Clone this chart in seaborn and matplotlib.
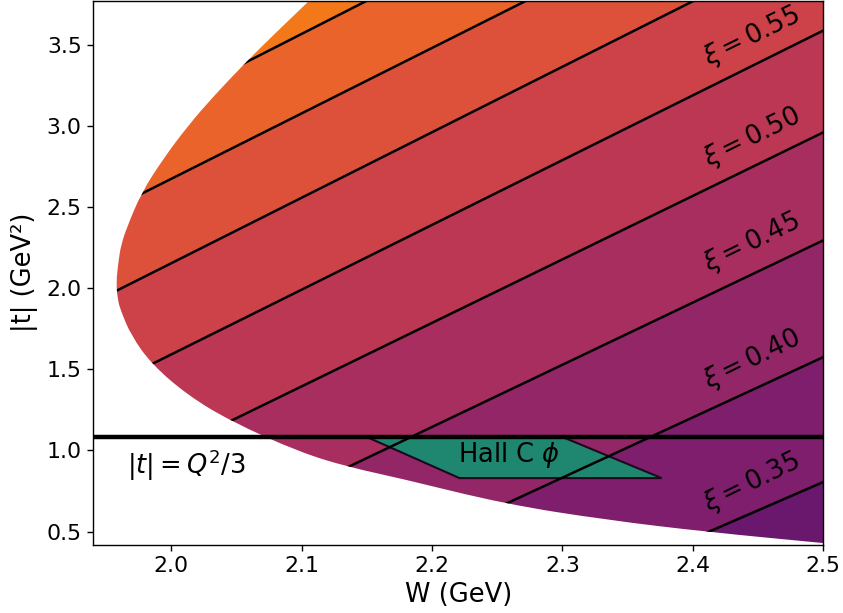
import numpy as np
import pandas as pd
import matplotlib
matplotlib.use("Agg")
import matplotlib.pyplot as plt
from matplotlib.patches import Polygon, PathPatch
from matplotlib.path import Path
import seaborn as sns

# photon virtuality (GeV^2)
q2 = 3.25

# kinematically allowed region: upper (|t|max) and lower (|t|min) edges
w_upper = [2.106, 2.078, 2.057, 2.033, 2.013, 1.993, 1.977, 1.966, 1.9615, 1.9596, 1.9577]
t_upper = [3.771, 3.556, 3.389, 3.186, 3.002, 2.787, 2.584, 2.375, 2.264, 2.170, 2.030]
w_lower = [1.9591, 1.9612, 1.9692, 1.9849, 2.0125, 2.0454, 2.0983, 2.1359,
           2.1749, 2.2562, 2.3343, 2.4117, 2.4999]
t_lower = [1.925, 1.863, 1.709, 1.532, 1.341, 1.181, 0.990, 0.898,
           0.830, 0.670, 0.572, 0.498, 0.430]

# constant-xi lines: |t| at the two W edges of the plot
xi_levels = [0.35, 0.40, 0.45, 0.50, 0.55, 0.60, 0.65, 0.70]
w_edges = [1.94, 2.50]
t_left = [-1.148, -0.503, 0.149, 0.769, 1.352, 1.911, 2.431, 2.911]
t_right = [0.806, 1.575, 2.294, 2.959, 3.586, 4.170, 4.688, 5.201]
band_floor = [0.30] + xi_levels  # lower xi of each coloured band

# labelled lines
label_xi = [0.35, 0.40, 0.45, 0.50, 0.55]
label_w = [2.445, 2.445, 2.445, 2.445, 2.445]
label_t = [0.799, 1.556, 2.276, 2.927, 3.549]

# Hall C phi acceptance
hallc_w = [2.150, 2.300, 2.376, 2.221]
hallc_t = [1.083, 1.083, 0.830, 0.830]

sns.set_theme(style="ticks")
plt.rcParams["font.family"] = ["DejaVu Sans"]
plt.rcParams.update({
    "axes.edgecolor": "black",
    "axes.linewidth": 1.0,
    "text.color": "black",
    "axes.labelcolor": "black",
    "xtick.color": "black",
    "ytick.color": "black",
})

fig = plt.figure(figsize=(8.43, 6.13), dpi=100)
ax = fig.add_axes([93 / 843, 68 / 613, 730.3 / 843, 544.5 / 613])

xlim = (1.94, 2.50)
ylim = (0.418, 3.771)

# region outline: boundary points joined by quadratic curves,
# then closed with straight segments outside the frame
edge = np.column_stack([w_upper + w_lower, t_upper + t_lower])
verts = [edge[0], 0.5 * (edge[0] + edge[1])]
codes = [Path.MOVETO, Path.LINETO]
for i in range(1, len(edge) - 1):
    verts += [edge[i], 0.5 * (edge[i] + edge[i + 1])]
    codes += [Path.CURVE3, Path.CURVE3]
verts += [edge[-1],
          (xlim[1] + 0.05, t_lower[-1]),
          (xlim[1] + 0.05, ylim[1] + 0.3),
          (w_upper[0], ylim[1] + 0.3),
          edge[0]]
codes += [Path.LINETO, Path.LINETO, Path.LINETO, Path.LINETO, Path.CLOSEPOLY]
region = PathPatch(Path(verts, codes), facecolor="none", edgecolor="none", lw=0)
ax.add_patch(region)

cmap = sns.color_palette("inferno", as_cmap=True)
lower_left = [-3.0] + t_left
lower_right = [-3.0] + t_right
upper_left = t_left + [7.0]
upper_right = t_right + [7.0]
for v, ll, lr, ul, ur in zip(band_floor, lower_left, lower_right, upper_left, upper_right):
    poly = ax.fill_between(w_edges, [ll, lr], [ul, ur], color=cmap(v), lw=0, zorder=1)
    poly.set_clip_path(region)

# acceptance polygon
hall = Polygon(np.column_stack([hallc_w, hallc_t]), closed=True,
               facecolor="#1f8770", edgecolor="#1c0a1c", lw=1.5, zorder=2)
ax.add_patch(hall)

# xi contours
rows = []
for xi, tl, tr in zip(xi_levels, t_left, t_right):
    rows.append({"W": w_edges[0], "t": tl, "xi": xi})
    rows.append({"W": w_edges[1], "t": tr, "xi": xi})
lines_df = pd.DataFrame(rows)
n_before = len(ax.lines)
sns.lineplot(data=lines_df, x="W", y="t", units="xi", estimator=None,
             color="black", lw=1.8, ax=ax, legend=False, zorder=3)
for ln in ax.lines[n_before:]:
    ln.set_clip_path(region)

ax.axhline(q2 / 3, color="black", lw=3.2, zorder=4)

for xi, w, t in zip(label_xi, label_w, label_t):
    ax.text(w, t, rf"$\xi = {xi:.2f}$", rotation=26, rotation_mode="anchor",
            ha="center", va="center", fontsize=18.5, zorder=5)

ax.text(1.966, 0.908, r"$|t| = Q^2/3$", fontsize=18.5, ha="left", va="center", zorder=5)
ax.text(2.259, 0.972, r"Hall C $\phi$", fontsize=18.5, ha="center", va="center", zorder=5)

ax.set_xlim(*xlim)
ax.set_ylim(*ylim)
ax.set_xticks([2.0, 2.1, 2.2, 2.3, 2.4, 2.5])
ax.set_yticks([0.5, 1.0, 1.5, 2.0, 2.5, 3.0, 3.5])
ax.tick_params(labelsize=15.8, length=4.6, width=1.0, color="black", labelcolor="black")
ax.set_xlabel("W (GeV)", fontsize=18.5, labelpad=4)
ax.set_ylabel("|t| (GeV²)", fontsize=18.5, labelpad=6)
for s in ax.spines.values():
    s.set_visible(True)

fig.savefig("out.png", dpi=100)
